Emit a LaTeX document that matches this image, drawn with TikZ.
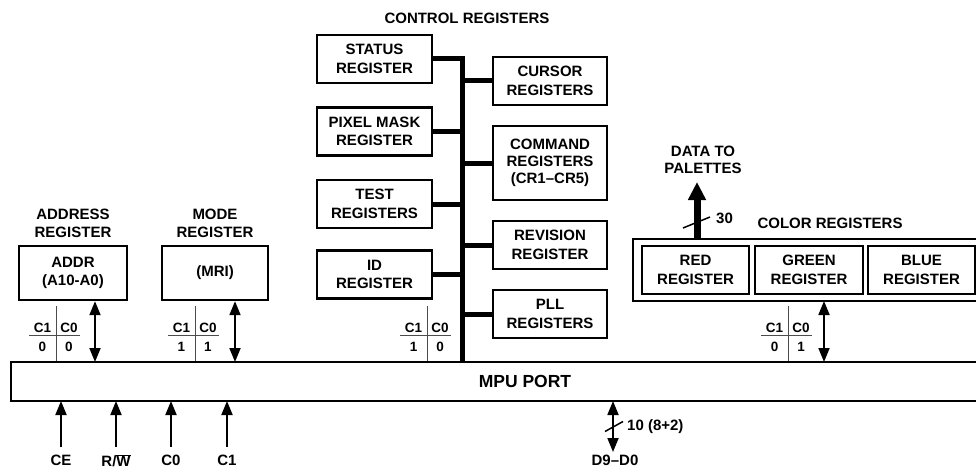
\documentclass[tikz,border=0pt]{standalone}
\usepackage{fontspec}
\setmainfont{Liberation Sans}
\usetikzlibrary{arrows.meta}
\newcommand\fs[2]{\fontsize{#1}{#2}\selectfont}
\newcommand\ctab[4]{%
  \draw[tabline] (#2,306) -- (#2,362);
  \draw[tabline] (#2-27,335.5) -- (#2+24,335.5);
  \node[small] (#1ca) at (#2-13.5,328) {C1};
  \node[small] (#1cb) at (#2+13,328) {C0};
  \node[small] (#1da) at (#2-13.5,347) {#3};
  \node[small] (#1db) at (#2+13,347) {#4};
}
\begin{document}
\begin{tikzpicture}[x=1pt,y=-1pt,
  every node/.style={font=\bfseries\fs{15}{18.5}, inner sep=0pt, align=center},
  box/.style={draw, line width=2.4pt, minimum height=48},
  lbox/.style={box, minimum width=115},
  rbox/.style={box, minimum width=114},
  link/.style={line width=5pt},
  tabline/.style={line width=1pt, black!70},
  small/.style={font=\bfseries\fs{13.5}{15}},
  bidir/.style={line width=1.8pt, {Triangle[length=14pt,width=11pt]}-{Triangle[length=14pt,width=11pt]}},
  uparr/.style={line width=1.8pt, -{Triangle[length=14pt,width=11pt]}},
]
\useasboundingbox (0,0) rectangle (976,468);
\clip (0,0) rectangle (976,468);

% tables (drawn first)
\ctab{ta}{56}{0}{0}
\ctab{tm}{195}{1}{1}
\ctab{tc}{427}{1}{0}
\ctab{tk}{788}{0}{1}

% MPU port
\node[draw, line width=2.2pt, outer sep=0pt, minimum width=1000, minimum height=39, anchor=north west] (mpu) at (11,362) {};
\node[font=\bfseries\fs{17.5}{20}] (mputext) at (525,381.5) {MPU PORT};

% address & mode
\node (laddr) at (73,223.5) {ADDRESS\\REGISTER};
\node (lmode) at (215,223.5) {MODE\\REGISTER};
\node[box, minimum width=108, minimum height=54] (addr) at (73,273) {ADDR\\(A10-A0)};
\node[box, minimum width=106, minimum height=54] (mode) at (215,273) {(MRI)};
\coordinate (ax) at (95,0);
\coordinate (mx) at (235,0);
\draw[bidir] (addr.south -| ax) -- (mpu.north -| ax);
\draw[bidir] (mode.south -| mx) -- (mpu.north -| mx);

% control registers
\node (ctitle) at (467,18) {CONTROL REGISTERS};
\node[lbox] (status) at (374.5,59) {STATUS\\REGISTER};
\node[lbox] (pixel) at (374.5,131.5) {PIXEL MASK\\REGISTER};
\node[lbox] (test) at (374.5,204) {TEST\\REGISTERS};
\node[lbox] (id) at (374.5,274.5) {ID\\REGISTER};
\node[rbox] (cursor) at (550,81) {CURSOR\\REGISTERS};
\node[rbox, minimum height=74, font=\bfseries\fs{15}{17}] (command) at (550,163) {COMMAND\\REGISTERS\\(CR1–CR5)};
\node[rbox] (revision) at (550,245) {REVISION\\REGISTER};
\node[rbox] (pll) at (550,314) {PLL\\REGISTERS};
\coordinate (busbot) at (462,362);
\draw[link, line join=miter] (status.east) -| (busbot);
\draw[link] (pixel.east) -- (pixel.east -| busbot);
\draw[link] (test.east) -- (test.east -| busbot);
\draw[link] (id.east) -- (id.east -| busbot);
\draw[link] (cursor.west) -- (cursor.west -| busbot);
\draw[link] (command.west) -- (command.west -| busbot);
\draw[link] (revision.west) -- (revision.west -| busbot);
\draw[link] (pll.west) -- (pll.west -| busbot);

% color registers
\node[draw, line width=2.4pt, outer sep=0pt, minimum width=380, minimum height=62, anchor=north west] (color) at (633,239) {};
\node (lcolor) at (830,223) {COLOR REGISTERS};
\node[box, minimum width=107] (red) at (695.5,270) {RED\\REGISTER};
\node[box, minimum width=108] (green) at (809,270) {GREEN\\REGISTER};
\node[box, minimum width=107] (blue) at (921.5,270) {BLUE\\REGISTER};
\node[font=\bfseries\fs{15}{17}] (data) at (703,160) {DATA TO\\PALETTES};
\coordinate (dtip) at (697,182);
\draw[line width=7pt, -{Triangle[length=18pt,width=17pt]}] (color.north -| dtip) -- (dtip);
\draw[line width=1.5pt] (683,228) -- (710,217);
\node (n30) at (724.5,218) {30};
\coordinate (kx) at (824,0);
\draw[bidir] (color.south -| kx) -- (mpu.north -| kx);

% bottom inputs
\coordinate (ybot) at (0,447);
\node (lce) at (61,460.5) {CE};
\node (lrw) at (116,460.5) {R/$\overline{\mbox{W}}$};
\node (lc0) at (171,460.5) {C0};
\node (lc1) at (227,460.5) {C1};
\foreach \n in {lce,lrw,lc0,lc1}{
  \draw[uparr] (\n.north |- ybot) -- (\n.north |- mpu.south);
}
% data bus
\node (ld) at (615,460.5) {D9–D0};
\coordinate (dx) at (613,452);
\draw[bidir] (mpu.south -| dx) -- (dx);
\draw[line width=1.5pt] (605,431.5) -- (623,421.5);
\node[anchor=west] (n10) at (627,427) {10 (8+2)};
\end{tikzpicture}
\end{document}
